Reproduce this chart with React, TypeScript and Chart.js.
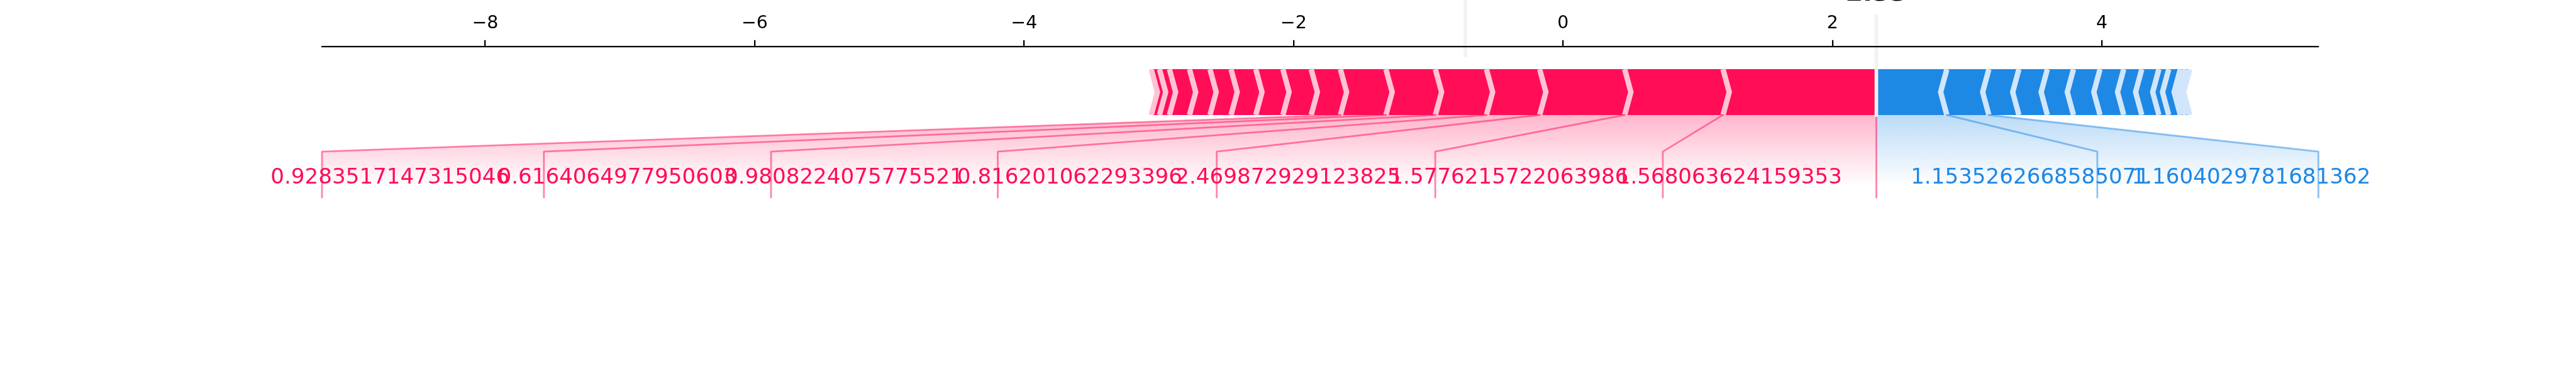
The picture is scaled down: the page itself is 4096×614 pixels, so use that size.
import React, { useEffect, useRef } from "react";
import { Chart, registerables } from "chart.js";

Chart.register(...registerables);

// ---- geometry helpers (reference is 6000x900 at 300 dpi) ----
const S = 4096 / 6000;
const PT = (300 / 72) * S; // pixels per typographic point

// ---- data ----
const BASE_VALUE = -0.725;
const OUT_VALUE = 2.326;
const X_LIMITS = [-9.211, 5.607];
const Y_LIMITS = [-0.5, 0.15];
const X_TICK_STEP = 2;

// features pushing the prediction higher (red), largest first
const POS_EFFECTS = [1.138, 0.73, 0.631, 0.395, 0.379, 0.367, 0.338, 0.217, 0.21, 0.201, 0.184, 0.156, 0.152, 0.149, 0.074, 0.061];
// features pushing the prediction lower (blue), largest first
const NEG_EFFECTS = [0.523, 0.312, 0.223, 0.211, 0.194, 0.197, 0.176, 0.134, 0.127, 0.073, 0.086, 0.035, 0.035];

const POS_LABELS = [
  "1.568063624159353",
  "1.5776215722063986",
  "2.469872929123825",
  "0.816201062293396",
  "0.9808224075775521",
  "0.6164064977950603",
  "0.9283517147315046",
];
const NEG_LABELS = ["1.1535262668585071", "1.1604029781681362"];

// x position where each label's connector line reaches the label row
const POS_LABEL_ENDS = [0.741, -0.948, -2.57, -4.195, -5.878, -7.564, -9.211];
const NEG_LABEL_ENDS = [3.966, 5.607];
const LABEL_OFFSET = 0.255;

const RED = "#FF0D57";
const RED_LIGHT = "#FFC3D5";
const BLUE = "#1E88E5";
const BLUE_LIGHT = "#D1E6FA";
const SEP_INDENT = 0.046;
const BAR_H = 0.1;

function cumulative(start: number, effects: number[], sign: number) {
  const out = [start];
  let v = start;
  for (const e of effects) {
    v = v + sign * e;
    out.push(v);
  }
  return out;
}

const forcePlugin = {
  id: "forcePlot",
  afterDatasetsDraw(chart: any) {
    const ctx: CanvasRenderingContext2D = chart.ctx;
    const xs = chart.scales.x;
    const ys = chart.scales.y;
    const X = (v: number) => xs.getPixelForValue(v);
    const Y = (v: number) => ys.getPixelForValue(v);

    const posB = cumulative(OUT_VALUE, POS_EFFECTS, -1);
    const negB = cumulative(OUT_VALUE, NEG_EFFECTS, 1);

    const poly = (pts: number[][], close = true) => {
      ctx.beginPath();
      pts.forEach((p, i) => {
        if (i === 0) ctx.moveTo(X(p[0]), Y(p[1]));
        else ctx.lineTo(X(p[0]), Y(p[1]));
      });
      if (close) ctx.closePath();
    };

    ctx.save();

    // ---- shading under the bars towards the labels ----
    const shade = (preVal: number, boxEnd: number, rgb: string) => {
      poly([
        [OUT_VALUE, 0],
        [preVal, 0],
        [boxEnd, -0.08],
        [boxEnd, -0.2],
        [OUT_VALUE, -0.2],
      ]);
      const g = ctx.createLinearGradient(0, Y(0), 0, Y(-0.155));
      g.addColorStop(0, `rgba(${rgb},0.3)`);
      g.addColorStop(1, `rgba(${rgb},0)`);
      ctx.fillStyle = g;
      ctx.fill();
    };
    shade(negB[NEG_LABELS.length], NEG_LABEL_ENDS[NEG_LABEL_ENDS.length - 1], "30,136,229");
    shade(posB[POS_LABELS.length], POS_LABEL_ENDS[POS_LABEL_ENDS.length - 1], "255,13,87");

    // ---- bars ----
    const drawBars = (bounds: number[], positive: boolean) => {
      const ind = positive ? SEP_INDENT : -SEP_INDENT;
      const fill = positive ? RED : BLUE;
      const sepColor = positive ? RED_LIGHT : BLUE_LIGHT;
      const seps: number[] = [];
      for (let i = 0; i < bounds.length - 1; i++) {
        const a = bounds[i];
        const b = bounds[i + 1];
        const left = Math.min(a, b);
        const right = Math.max(a, b);
        let pts: number[][];
        if (i === 0) {
          if (positive) {
            pts = [[left, 0], [right, 0], [right, BAR_H], [left, BAR_H], [left + ind, BAR_H / 2]];
          } else {
            pts = [[right, 0], [left, 0], [left, BAR_H], [right, BAR_H], [right + ind, BAR_H / 2]];
          }
        } else {
          pts = [
            [left, 0], [right, 0], [right + ind * 0.9, BAR_H / 2],
            [right, BAR_H], [left, BAR_H], [left + ind * 0.9, BAR_H / 2],
          ];
        }
        poly(pts);
        ctx.fillStyle = fill;
        ctx.fill();
        seps.push(positive ? left : right);
      }
      ctx.strokeStyle = sepColor;
      ctx.lineWidth = 3 * PT;
      ctx.lineJoin = "miter";
      ctx.lineCap = "butt";
      for (const p of seps) {
        poly([[p, 0], [p + ind, BAR_H / 2], [p, BAR_H]], false);
        ctx.stroke();
      }
    };
    drawBars(negB, false);
    drawBars(posB, true);

    // ---- label connector lines ----
    ctx.lineWidth = 1 * PT;
    ctx.lineCap = "square";
    ctx.lineJoin = "round";
    ctx.strokeStyle = "rgba(255,13,87,0.5)";
    poly([[OUT_VALUE, 0], [OUT_VALUE, -0.18]], false);
    ctx.stroke();
    NEG_LABEL_ENDS.forEach((end, i) => {
      ctx.strokeStyle = "rgba(30,136,229,0.5)";
      poly([[negB[i + 1], 0], [end, -0.08], [end, -0.18]], false);
      ctx.stroke();
    });
    POS_LABEL_ENDS.forEach((end, i) => {
      ctx.strokeStyle = "rgba(255,13,87,0.5)";
      poly([[posB[i + 1], 0], [end, -0.08], [end, -0.18]], false);
      ctx.stroke();
    });

    // ---- base value and output value markers ----
    ctx.strokeStyle = "#F2F2F2";
    ctx.lineWidth = 2 * PT;
    ctx.lineCap = "square";
    poly([[BASE_VALUE, 0.13], [BASE_VALUE, 0.25]], false);
    ctx.stroke();
    poly([[OUT_VALUE, 0], [OUT_VALUE, 0.24]], false);
    ctx.stroke();

    const outFs = 14 * PT;
    ctx.font = `bold ${outFs}px "DejaVu Sans"`;
    const outText = OUT_VALUE.toFixed(2);
    const tw = ctx.measureText(outText).width;
    const bx = X(OUT_VALUE);
    const by = Y(0.25);
    ctx.fillStyle = "#ffffff";
    ctx.fillRect(bx - tw / 2 - 0.3 * outFs, by - 1.5 * outFs, tw + 0.6 * outFs, 1.5 * outFs + 0.55 * outFs);
    ctx.fillStyle = "#000000";
    ctx.textAlign = "center";
    ctx.textBaseline = "alphabetic";
    ctx.fillText(outText, bx, by);

    // ---- label texts ----
    const fs = 12 * PT;
    ctx.font = `${fs}px "DejaVu Sans"`;
    ctx.textBaseline = "alphabetic";
    ctx.fillStyle = BLUE;
    ctx.textAlign = "left";
    NEG_LABELS.forEach((t, i) => {
      const start = i === 0 ? OUT_VALUE : NEG_LABEL_ENDS[i - 1];
      ctx.fillText(t, X(start + LABEL_OFFSET), Y(-0.15));
    });
    ctx.fillStyle = RED;
    ctx.textAlign = "right";
    POS_LABELS.forEach((t, i) => {
      const start = i === 0 ? OUT_VALUE : POS_LABEL_ENDS[i - 1];
      ctx.fillText(t, X(start - LABEL_OFFSET), Y(-0.15));
    });

    ctx.restore();
  },
};

export default function App() {
  const ref = useRef<HTMLCanvasElement | null>(null);

  useEffect(() => {
    if (!ref.current) return;
    const W = 4096;
    const H = 614;
    const chart = new Chart(ref.current, {
      type: "scatter",
      data: { datasets: [] },
      options: {
        responsive: false,
        animation: false,
        devicePixelRatio: 1,
        events: [],
        layout: {
          padding: {
            left: 750 * S,
            right: W - 5400 * S,
            top: 0,
            bottom: H - 801 * S,
          },
        },
        plugins: {
          legend: { display: false },
          tooltip: { enabled: false },
        },
        scales: {
          x: {
            type: "linear",
            position: "top",
            min: X_LIMITS[0],
            max: X_LIMITS[1],
            afterFit: (scale: any) => {
              scale.height = 108 * S;
            },
            ticks: {
              stepSize: X_TICK_STEP,
              includeBounds: false,
              autoSkip: false,
              maxRotation: 0,
              padding: 12,
              color: "#000000",
              font: { family: '"DejaVu Sans"', size: 10 * PT, lineHeight: 1 },
              callback: (v: any) => {
                const n = Number(v);
                return n < 0 ? "\u2212" + Math.abs(n) : String(n);
              },
            },
            grid: {
              display: true,
              drawOnChartArea: false,
              drawTicks: true,
              tickLength: 3.5 * PT,
              color: "#000000",
              lineWidth: 0.8 * PT,
              z: 1,
            },
            border: { display: true, color: "#000000", width: 0.8 * PT, z: 1 },
          },
          y: {
            type: "linear",
            display: false,
            min: Y_LIMITS[0],
            max: Y_LIMITS[1],
          },
        },
      } as any,
      plugins: [forcePlugin],
    });
    return () => chart.destroy();
  }, []);

  return (
    <div style={{ position: "absolute", left: 0, top: 0, width: 4096, height: 614, background: "#ffffff" }}>
      <canvas ref={ref} width={4096} height={614} style={{ display: "block", width: 4096, height: 614 }} />
    </div>
  );
}
